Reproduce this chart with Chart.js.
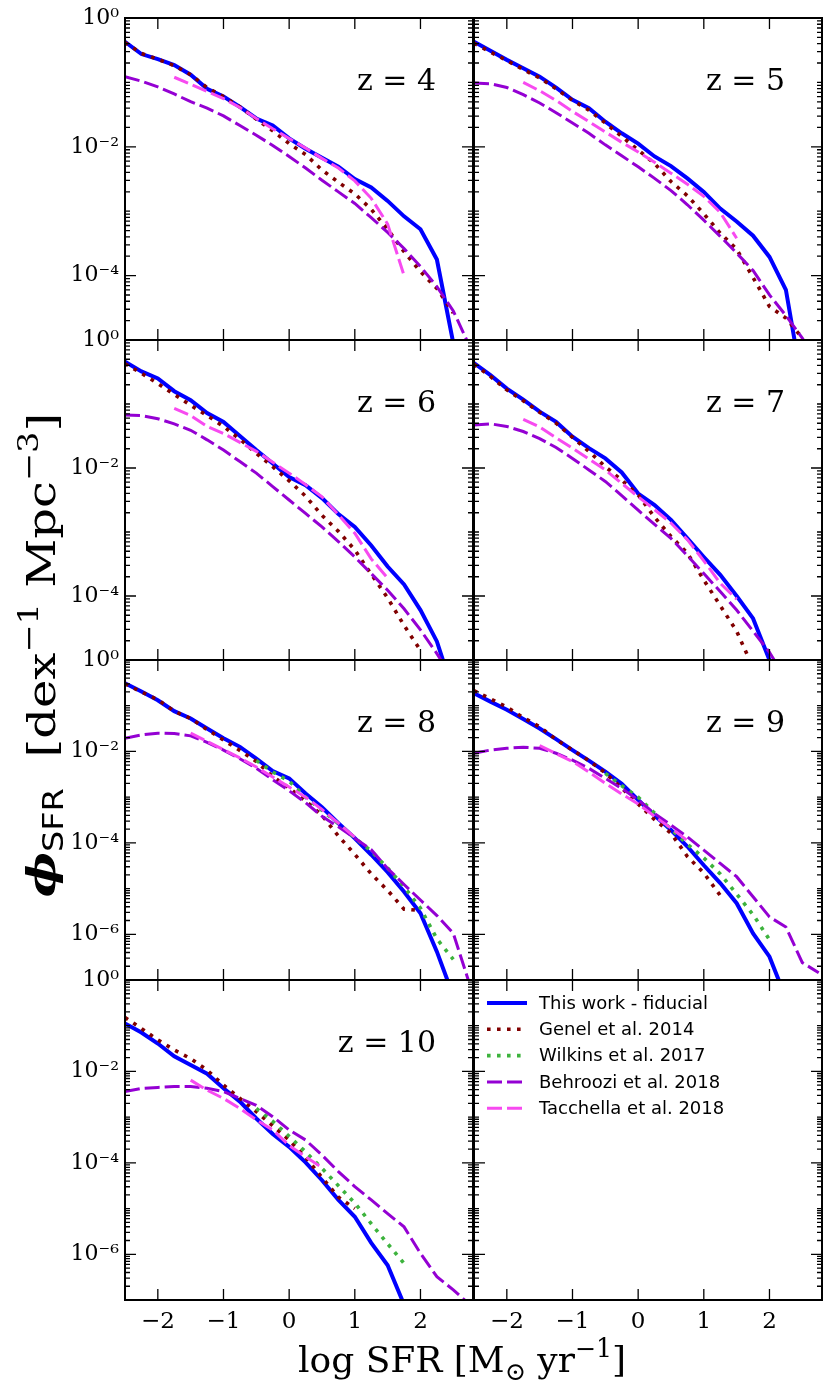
<!DOCTYPE html>
<html>
<head>
<meta charset="utf-8">
<script src="https://cdn.jsdelivr.net/npm/chart.js@4.4.0/dist/chart.umd.min.js"></script>
<style>
    html, body { margin: 0; padding: 0; background: #fff; }
    #figure { position: relative; width: 830px; height: 1389px; overflow: hidden; background: #fff; }
    #figure canvas { position: absolute; }
    .titreAxe { position: absolute; z-index: 2; font-family: "DejaVu Serif", serif; color: #000; white-space: nowrap; text-align: center; }
    .titreAxe sup { font-size: 0.7em; vertical-align: 0.6em; line-height: 0; }
    .titreAxe sub { font-size: 0.7em; vertical-align: -0.3em; line-height: 0; }
    #titreX { left: 212px; top: 1338px; width: 500px; height: 44px; line-height: 44px; font-size: 36px; }
    #titreY { left: -309px; top: 625px; width: 700px; height: 60px; line-height: 60px; font-size: 40px; transform: rotate(-90deg) scaleX(1.2); }
    #titreY .phi { font-weight: bold; font-style: italic; }
    #titreY .sfr { font-family: "DejaVu Sans", sans-serif; }
</style>
</head>
<body>
<div id="figure">
    <div id="titreY" class="titreAxe"><span class="phi">ϕ</span><sub class="sfr">SFR</sub>&nbsp;&nbsp;[dex<sup>−1</sup> Mpc<sup>−3</sup>]</div>
    <div id="titreX" class="titreAxe">log SFR [M<sub>⊙</sub> yr<sup>−1</sup>]</div>
</div>
<script>
// grille commune en log SFR (pas de 0.25 dex)
const logSfr = [-2.5, -2.25, -2, -1.75, -1.5, -1.25, -1, -0.75, -0.5, -0.25, 0, 0.25, 0.5, 0.75, 1, 1.25, 1.5, 1.75, 2, 2.25, 2.5, 2.75]

const seriesNoms = ["This work - fiducial", "Genel et al. 2014", "Wilkins et al. 2017", "Behroozi et al. 2018", "Tacchella et al. 2018"]
const redshifts = [4, 5, 6, 7, 8, 9, 10]

const xTicks = [-2, -1, 0, 1, 2]
const yTicksHaut = [0, -2, -4]
const yTicksBas = [0, -2, -4, -6]

// log10(phi), null = pas de donnee
const z4Fiducial = [-0.37, -0.56, -0.64, -0.73, -0.88, -1.10, -1.22, -1.38, -1.56, -1.67, -1.87, -2.03, -2.17, -2.31, -2.50, -2.63, -2.84, -3.08, -3.28, -3.75, -5.05, null]
const z4Genel = [-0.38, -0.55, -0.64, -0.74, -0.88, -1.08, -1.22, -1.38, -1.57, -1.75, -1.95, -2.12, -2.36, -2.55, -2.73, -2.97, -3.28, -3.63, -3.94, -4.20, -4.58, null]
const z4Behroozi = [-0.91, -0.98, -1.07, -1.18, -1.30, -1.40, -1.52, -1.67, -1.82, -1.98, -2.15, -2.33, -2.52, -2.70, -2.88, -3.10, -3.33, -3.58, -3.86, -4.17, -4.55, -5.10]
const z4Tacchella = [null, null, null, -0.92, -1.03, -1.14, -1.25, -1.39, -1.56, -1.72, -1.87, -2.02, -2.18, -2.33, -2.53, -2.80, -3.20, -4.00, null, null, null, null]

const z5Fiducial = [-0.37, -0.51, -0.65, -0.78, -0.91, -1.08, -1.27, -1.40, -1.61, -1.79, -1.95, -2.15, -2.30, -2.49, -2.70, -2.96, -3.16, -3.38, -3.71, -4.22, -5.70, null]
const z5Genel = [-0.39, -0.53, -0.66, -0.80, -0.93, -1.10, -1.28, -1.43, -1.63, -1.84, -2.05, -2.26, -2.54, -2.76, -3.04, -3.34, -3.59, -4.03, -4.48, -4.66, -4.97, null]
const z5Behroozi = [-1.01, -1.02, -1.08, -1.19, -1.32, -1.47, -1.63, -1.79, -1.97, -2.14, -2.31, -2.49, -2.68, -2.90, -3.14, -3.39, -3.65, -3.92, -4.30, -4.62, -4.97, -5.40]
const z5Tacchella = [null, null, null, -1.00, -1.13, -1.28, -1.45, -1.61, -1.77, -1.93, -2.08, -2.24, -2.41, -2.58, -2.77, -3.02, -3.42, null, null, null, null, null]

const z6Fiducial = [-0.34, -0.49, -0.60, -0.80, -0.94, -1.14, -1.28, -1.50, -1.72, -1.93, -2.14, -2.27, -2.47, -2.72, -2.92, -3.21, -3.54, -3.82, -4.22, -4.71, -5.50, null]
const z6Genel = [-0.37, -0.52, -0.68, -0.85, -1.02, -1.18, -1.35, -1.55, -1.77, -1.98, -2.20, -2.44, -2.74, -2.99, -3.28, -3.66, -4.03, -4.46, -4.85, null, null, null]
const z6Behroozi = [-1.17, -1.18, -1.23, -1.31, -1.41, -1.56, -1.72, -1.90, -2.08, -2.29, -2.50, -2.71, -2.92, -3.15, -3.39, -3.65, -3.91, -4.20, -4.53, -4.90, -5.30, null]
const z6Tacchella = [null, null, null, -1.07, -1.18, -1.35, -1.46, -1.60, -1.74, -1.91, -2.08, -2.26, -2.45, -2.73, -3.02, -3.42, -3.72, null, null, null, null, null]

const z7Fiducial = [-0.36, -0.55, -0.76, -0.93, -1.12, -1.28, -1.51, -1.69, -1.85, -2.07, -2.40, -2.58, -2.81, -3.10, -3.39, -3.67, -4.00, -4.35, -5.00, -5.70, null, null]
const z7Genel = [-0.38, -0.57, -0.78, -0.95, -1.13, -1.30, -1.52, -1.74, -1.98, -2.19, -2.42, -2.77, -3.07, -3.33, -3.75, -4.15, -4.55, -5.12, null, null, null, null]
const z7Behroozi = [-1.33, -1.31, -1.35, -1.43, -1.54, -1.68, -1.85, -2.03, -2.21, -2.43, -2.66, -2.88, -3.10, -3.37, -3.65, -3.93, -4.22, -4.55, -4.88, -5.30, null, null]
const z7Tacchella = [null, null, null, -1.24, -1.36, -1.53, -1.69, -1.86, -2.03, -2.24, -2.45, -2.65, -2.86, -3.12, -3.45, -3.80, -4.05, null, null, null, null, null]

const z8Fiducial = [-0.51, -0.69, -0.88, -1.12, -1.28, -1.50, -1.71, -1.90, -2.16, -2.43, -2.59, -2.92, -3.22, -3.57, -3.90, -4.26, -4.64, -5.07, -5.54, -6.38, -7.35, null]
const z8Genel = [-0.52, -0.70, -0.87, -1.12, -1.28, -1.52, -1.75, -1.98, -2.22, -2.55, -2.80, -3.08, -3.40, -3.85, -4.25, -4.68, -5.04, -5.45, -5.48, null, null, null]
const z8Wilkins = [null, null, null, null, null, null, null, null, -2.20, -2.45, -2.65, -3.00, -3.29, -3.58, -3.89, -4.18, -4.55, -4.96, -5.43, -6.10, -6.55, null]
const z8Behroozi = [-1.71, -1.64, -1.60, -1.61, -1.66, -1.80, -1.97, -2.16, -2.37, -2.62, -2.86, -3.12, -3.42, -3.65, -3.90, -4.15, -4.56, -4.91, -5.25, -5.59, -5.98, -7.10]
const z8Tacchella = [null, null, null, null, -1.60, -1.78, -1.96, -2.14, -2.34, -2.56, -2.78, -3.00, -3.27, -3.57, -3.88, null, null, null, null, null, null, null]

const z9Fiducial = [-0.73, -0.91, -1.09, -1.29, -1.50, -1.73, -1.97, -2.20, -2.44, -2.71, -3.06, -3.40, -3.72, -4.08, -4.49, -4.88, -5.32, -5.98, -6.49, -7.40, null, null]
const z9Genel = [-0.67, -0.85, -1.03, -1.26, -1.46, -1.74, -1.97, -2.20, -2.47, -2.80, -3.15, -3.49, -3.79, -4.30, -4.66, -5.15, null, null, null, null, null, null]
const z9Wilkins = [null, null, null, null, null, null, null, null, -2.48, -2.75, -3.00, -3.35, -3.70, -4.03, -4.33, -4.68, -5.12, -5.57, -6.12, null, null, null]
const z9Behroozi = [-2.04, -1.97, -1.93, -1.91, -1.93, -2.04, -2.19, -2.37, -2.59, -2.81, -3.06, -3.36, -3.61, -3.87, -4.16, -4.45, -4.74, -5.18, -5.62, -5.84, -6.62, -6.84]
const z9Tacchella = [null, null, null, null, -1.87, -2.05, -2.22, -2.45, -2.70, -2.93, -3.15, -3.42, -3.68, -3.95, null, null, null, null, null, null, null, null]

const z10Fiducial = [-0.95, -1.15, -1.39, -1.67, -1.86, -2.05, -2.37, -2.66, -3.03, -3.37, -3.65, -3.99, -4.38, -4.81, -5.18, -5.75, -6.24, -7.10, null, null, null, null]
const z10Genel = [-0.82, -1.06, -1.31, -1.53, -1.72, -1.97, -2.30, -2.59, -2.88, -3.19, -3.50, -3.88, -4.32, -4.75, -5.00, null, null, null, null, null, null, null]
const z10Wilkins = [null, null, null, null, null, null, null, null, -2.81, -3.09, -3.42, -3.76, -4.12, -4.50, -4.88, -5.33, -5.77, -6.20, null, null, null, null]
const z10Behroozi = [-2.44, -2.37, -2.35, -2.33, -2.33, -2.37, -2.44, -2.59, -2.74, -2.99, -3.28, -3.50, -3.83, -4.19, -4.52, -4.81, -5.11, -5.40, -5.98, -6.49, -6.78, -7.10]
const z10Tacchella = [null, null, null, null, -2.19, -2.41, -2.59, -2.81, -3.06, -3.28, -3.62, -3.87, -4.10, null, null, null, null, null, null, null, null, null]

// placement des panneaux (px dans la page)
const colonnesGauche = [125, 473.5]
const largeurPanneau = 348
const lignesHaut = [18, 340, 660, 980]
const hauteursPanneau = [322, 320, 320, 320]

const styles = [
    { borderColor: "#0000ff", borderWidth: 4, borderDash: [], order: 5 },
    { borderColor: "#800000", borderWidth: 3.6, borderDash: [3.6, 6.4], order: 4 },
    { borderColor: "#3db33d", borderWidth: 3.6, borderDash: [3.6, 6.4], order: 3 },
    { borderColor: "#9400d3", borderWidth: 3, borderDash: [15, 5], order: 2 },
    { borderColor: "#f74af0", borderWidth: 3, borderDash: [15, 5], order: 1 },
]

const panneaux = [
    { z: 4, col: 0, ligne: 0, series: [z4Fiducial, z4Genel, null, z4Behroozi, z4Tacchella] },
    { z: 5, col: 1, ligne: 0, series: [z5Fiducial, z5Genel, null, z5Behroozi, z5Tacchella] },
    { z: 6, col: 0, ligne: 1, series: [z6Fiducial, z6Genel, null, z6Behroozi, z6Tacchella] },
    { z: 7, col: 1, ligne: 1, series: [z7Fiducial, z7Genel, null, z7Behroozi, z7Tacchella] },
    { z: 8, col: 0, ligne: 2, series: [z8Fiducial, z8Genel, z8Wilkins, z8Behroozi, z8Tacchella] },
    { z: 9, col: 1, ligne: 2, series: [z9Fiducial, z9Genel, z9Wilkins, z9Behroozi, z9Tacchella] },
    { z: 10, col: 0, ligne: 3, series: [z10Fiducial, z10Genel, z10Wilkins, z10Behroozi, z10Tacchella] },
    { z: null, col: 1, ligne: 3, series: [] },
]

const exposant = { "0": "⁰", "1": "¹", "2": "²", "3": "³", "4": "⁴", "5": "⁵", "6": "⁶", "7": "⁷", "-": "⁻" }
function labelPuissance(n) {
    return "10" + String(n).split("").map(c => exposant[c]).join("")
}

// cadre complet + graduations vers l'interieur + etiquette du redshift + legende
const cadre = {
    id: "cadre",
    afterDraw(chart, args, opts) {
        const { ctx, chartArea: a } = chart
        const x = chart.scales.x
        const y = chart.scales.y
        ctx.save()
        ctx.strokeStyle = "#000"
        ctx.lineWidth = 1.3
        ctx.beginPath()
        for (const v of xTicks) {
            const px = x.getPixelForValue(v)
            ctx.moveTo(px, a.bottom); ctx.lineTo(px, a.bottom - 11)
            ctx.moveTo(px, a.top); ctx.lineTo(px, a.top + 11)
        }
        for (let n = y.min; n < y.max; n++) {
            for (let k = 1; k <= 9; k++) {
                const v = n + Math.log10(k)
                if (v <= y.min || v >= y.max) continue
                const longueur = (k === 1 && n % 2 === 0) ? 11 : 5
                const py = y.getPixelForValue(v)
                ctx.moveTo(a.left, py); ctx.lineTo(a.left + longueur, py)
                ctx.moveTo(a.right, py); ctx.lineTo(a.right - longueur, py)
            }
        }
        ctx.stroke()
        ctx.lineWidth = 2
        ctx.strokeRect(a.left, a.top, a.right - a.left, a.bottom - a.top)

        if (opts.texte) {
            ctx.fillStyle = "#000"
            ctx.font = "30px 'DejaVu Serif'"
            ctx.textAlign = "right"
            ctx.textBaseline = "middle"
            ctx.fillText(opts.texte, a.right - 37, a.top + 64)
        }

        if (opts.legende) {
            ctx.font = "18px 'DejaVu Sans'"
            ctx.textAlign = "left"
            ctx.textBaseline = "middle"
            ctx.fillStyle = "#000"
            seriesNoms.forEach((nom, i) => {
                const yy = a.top + 23 + i * 26.3
                ctx.save()
                ctx.strokeStyle = styles[i].borderColor
                ctx.lineWidth = styles[i].borderWidth
                ctx.lineCap = "butt"
                ctx.setLineDash(styles[i].borderDash)
                ctx.beginPath()
                ctx.moveTo(a.left + 13, yy)
                ctx.lineTo(a.left + 53, yy)
                ctx.stroke()
                ctx.restore()
                ctx.fillText(nom, a.left + 65, yy + 1)
            })
        }
        ctx.restore()
    }
}

const MARGE_G = 75, MARGE_H = 20, MARGE_D = 10, MARGE_B = 45
const figure = document.getElementById("figure")

for (const p of panneaux) {
    const canvas = document.createElement("canvas")
    const hauteur = hauteursPanneau[p.ligne]
    canvas.width = largeurPanneau + MARGE_G + MARGE_D
    canvas.height = hauteur + MARGE_H + MARGE_B
    canvas.style.left = (colonnesGauche[p.col] - MARGE_G) + "px"
    canvas.style.top = (lignesHaut[p.ligne] - MARGE_H) + "px"
    figure.appendChild(canvas)

    const yMin = p.ligne < 2 ? -5 : -7
    const yTicks = p.ligne < 2 ? yTicksHaut : yTicksBas
    const estBas = p.ligne === 3

    const datasets = []
    p.series.forEach((serie, i) => {
        if (serie === null) return
        datasets.push({
            label: seriesNoms[i],
            data: logSfr.map((x, j) => ({ x: x, y: serie[j] })).filter(pt => pt.y !== null && pt.y !== undefined),
            borderColor: styles[i].borderColor,
            borderWidth: styles[i].borderWidth,
            borderDash: styles[i].borderDash,
            borderCapStyle: "butt",
            order: styles[i].order,
            pointRadius: 0,
            tension: 0,
            fill: false,
            clip: 0,
        })
    })

    new Chart(canvas, {
        type: "line",
        data: { datasets: datasets },
        plugins: [cadre],
        options: {
            responsive: false,
            animation: false,
            events: [],
            layout: { padding: { left: 0, top: MARGE_H, right: MARGE_D, bottom: 0 } },
            scales: {
                x: {
                    type: "linear",
                    min: -2.5,
                    max: 2.8,
                    grid: { display: false, drawTicks: false },
                    border: { display: false },
                    afterBuildTicks: (s) => { s.ticks = xTicks.map(v => ({ value: v })) },
                    afterFit: (s) => { s.height = MARGE_B },
                    ticks: {
                        display: estBas,
                        padding: 8,
                        color: "#000",
                        font: { family: "'DejaVu Serif'", size: 23 },
                        callback: (v) => String(v).replace("-", "−"),
                    },
                },
                y: {
                    type: "linear",
                    min: yMin,
                    max: 0,
                    grid: { display: false, drawTicks: false },
                    border: { display: false },
                    afterBuildTicks: (s) => { s.ticks = yTicks.map(v => ({ value: v })) },
                    afterFit: (s) => { s.width = MARGE_G },
                    ticks: {
                        display: p.col === 0,
                        padding: 6,
                        color: "#000",
                        font: { family: "'DejaVu Serif'", size: 22 },
                        callback: (v) => labelPuissance(v),
                    },
                },
            },
            plugins: {
                cadre: { texte: p.z ? "z = " + p.z : null, legende: p.z === null },
                tooltip: { enabled: false },
                title: { display: false },
                legend: { display: false },
            },
        },
    })
}
</script>
</body>
</html>
